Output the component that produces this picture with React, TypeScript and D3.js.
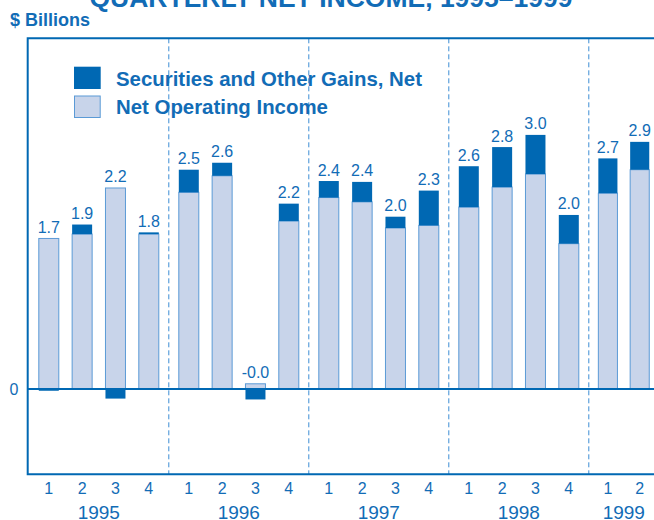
import React from "react";
import * as d3 from "d3";

const years = ["1995", "1996", "1997", "1998", "1999"];
const quarterNames = ["1", "2", "3", "4"];
// Quarterly values in $ billions, 1995 Q1 .. 1999 Q2
const netOperatingIncome = [1.73, 1.78, 2.31, 1.78, 2.26, 2.45, 0.06, 1.93, 2.2, 2.15, 1.85, 1.88, 2.09, 2.32, 2.47, 1.67, 2.25, 2.52];
const securitiesGains = [-0.02, 0.11, -0.11, 0.02, 0.26, 0.15, -0.12, 0.2, 0.19, 0.23, 0.13, 0.4, 0.47, 0.46, 0.45, 0.33, 0.4, 0.32];
const totalLabels = ["1.7", "1.9", "2.2", "1.8", "2.5", "2.6", "-0.0", "2.2", "2.4", "2.4", "2.0", "2.3", "2.6", "2.8", "3.0", "2.0", "2.7", "2.9"];
const yTicks = [0];
const legendLabels = ["Securities and Other Gains, Net", "Net Operating Income"];

const W = 654;
const H = 520;
const DARK = "#0068b3";
const TEXT = "#126cb6";
const LIGHT = "#c8d4ea";
const LIGHT_STROKE = "#5b9ad6";
const DASH = "#3d8dd4";
const FONT = "'Liberation Sans', Arial, Helvetica, sans-serif";

export default function App() {
  const y = d3.scaleLinear().domain([-0.98, 4.03]).range([474.3, 38.3]);
  const slot = d3.scaleLinear().domain([0, 20]).range([28.8, 728.8]);

  const bars = netOperatingIncome.map((noi, i) => {
    const yi = Math.floor(i / 4);
    const count = Math.min(4, netOperatingIncome.length - yi * 4);
    const inner = d3
      .scaleBand<string>()
      .domain(quarterNames.slice(0, count))
      .range([slot(yi * 4), slot(yi * 4 + count)])
      .paddingInner(0.4)
      .paddingOuter(0.3);
    const q = quarterNames[i % 4];
    return {
      i,
      noi,
      gain: securitiesGains[i],
      label: totalLabels[i],
      q,
      x: inner(q) as number,
      bw: inner.bandwidth(),
    };
  });

  const yearGroups = years.map((yr, yi) => {
    const count = Math.min(4, netOperatingIncome.length - yi * 4);
    return { yr, x0: slot(yi * 4), x1: slot(yi * 4 + count) };
  });

  const yTop = y.range()[1];
  const yBot = y.range()[0];
  const xLeft = 27.7;
  const xRight = slot(20);

  return (
    <svg
      width={W}
      height={H}
      style={{ position: "absolute", left: 0, top: 0, background: "#fff" }}
      fontFamily={FONT}
    >
      {/* Title (cut off at top) */}
      <text x={331} y={7} textAnchor="middle" fontSize={26.5} fontWeight="bold" fill={TEXT}>
        QUARTERLY NET INCOME, 1995–1999
      </text>
      <text x={10} y={26} fontSize={18} fontWeight="bold" fill={TEXT}>
        $ Billions
      </text>

      {/* Year dividers */}
      {yearGroups.slice(1).map((g) => (
        <line
          key={g.yr}
          x1={g.x0}
          x2={g.x0}
          y1={yTop}
          y2={yBot}
          stroke={DASH}
          strokeWidth={1}
          strokeDasharray="5,3"
        />
      ))}

      {/* Bars */}
      {bars.map((b) => {
        const lightTop = y(Math.max(b.noi, 0));
        const lightBot = y(Math.min(b.noi, 0));
        const base = b.gain >= 0 ? Math.max(b.noi, 0) : 0;
        const gTop = y(Math.max(base, base + b.gain));
        const gBot = y(Math.min(base, base + b.gain));
        const top = Math.min(lightTop, gTop);
        return (
          <g key={b.i}>
            <rect
              x={b.x}
              y={lightTop}
              width={b.bw}
              height={lightBot - lightTop}
              fill={LIGHT}
              stroke={LIGHT_STROKE}
              strokeWidth={1}
            />
            <rect x={b.x} y={gTop} width={b.bw} height={Math.max(gBot - gTop, 1.5)} fill={DARK} />
            <text
              x={b.x + b.bw / 2}
              y={top - 5.5}
              textAnchor="middle"
              fontSize={16}
              fill={TEXT}
            >
              {b.label}
            </text>
          </g>
        );
      })}

      {/* Zero line */}
      {yTicks.map((t) => (
        <g key={t}>
          <line x1={xLeft} x2={xRight} y1={y(t)} y2={y(t)} stroke={DARK} strokeWidth={2} />
          <text x={14} y={y(t) + 6} textAnchor="middle" fontSize={16} fill={TEXT}>
            {t}
          </text>
        </g>
      ))}

      {/* Frame */}
      <path
        d={`M${xRight},${yTop} L${xLeft},${yTop} L${xLeft},${yBot} L${xRight},${yBot}`}
        fill="none"
        stroke={DARK}
        strokeWidth={2}
      />

      {/* X axis labels */}
      {bars.map((b) => (
        <text
          key={"q" + b.i}
          x={b.x + b.bw / 2}
          y={494}
          textAnchor="middle"
          fontSize={16}
          fill={TEXT}
        >
          {b.q}
        </text>
      ))}
      {yearGroups.map((g) => (
        <text
          key={"y" + g.yr}
          x={(g.x0 + g.x1) / 2}
          y={518.5}
          textAnchor="middle"
          fontSize={19}
          fill={TEXT}
        >
          {g.yr}
        </text>
      ))}

      {/* Legend */}
      <rect x={74} y={66.7} width={26.7} height={22.3} fill={DARK} />
      <rect x={74.5} y={96} width={25.7} height={21.5} fill={LIGHT} stroke={LIGHT_STROKE} strokeWidth={1} />
      <text x={116} y={86} fontSize={20.4} fontWeight="bold" fill={TEXT}>
        {legendLabels[0]}
      </text>
      <text x={116} y={114.3} fontSize={20.4} fontWeight="bold" fill={TEXT}>
        {legendLabels[1]}
      </text>
    </svg>
  );
}
